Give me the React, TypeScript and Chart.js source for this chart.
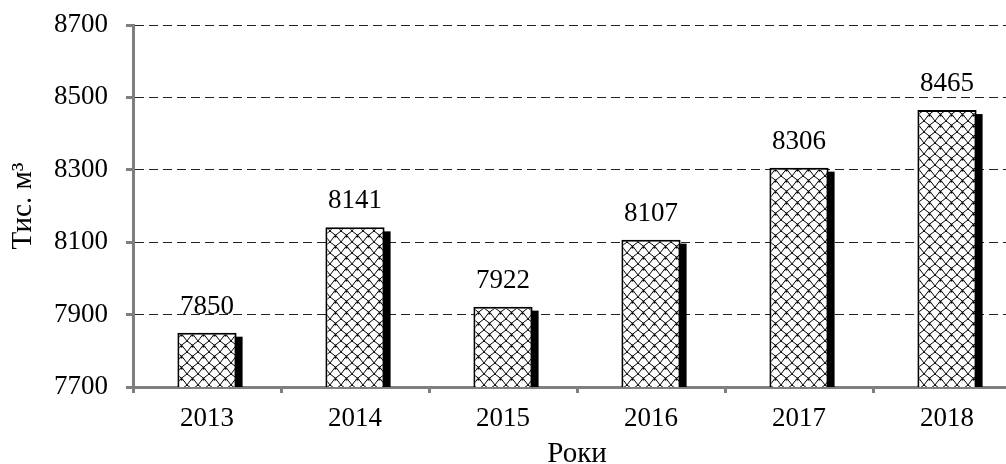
import React, { useEffect, useRef } from "react";
import { Chart, registerables } from "chart.js";

Chart.register(...registerables);

const categories = ["2013", "2014", "2015", "2016", "2017", "2018"];
const values = [7850, 8141, 7922, 8107, 8306, 8465];
const yTicks = [7700, 7900, 8100, 8300, 8500, 8700];

const FONT = "'Liberation Serif', 'Times New Roman', serif";
const FS = 27;
const TFS = 29;

function makePattern(): CanvasPattern | string {
  const c = document.createElement("canvas");
  const s = 11;
  c.width = s;
  c.height = s;
  const g = c.getContext("2d");
  if (!g) return "#fff";
  g.fillStyle = "#fff";
  g.fillRect(0, 0, s, s);
  g.strokeStyle = "#000";
  g.lineWidth = 1;
  g.beginPath();
  g.moveTo(0, 0);
  g.quadraticCurveTo(s / 2 + 1.5, s / 2 - 1.5, s, s);
  g.moveTo(s, 0);
  g.quadraticCurveTo(s / 2 - 1.5, s / 2 - 1.5, 0, s);
  g.stroke();
  g.fillStyle = "#000";
  g.fillRect(s / 2 - 1, s / 2 - 1, 2, 2);
  g.fillRect(0, 0, 1, 1);
  const p = g.createPattern(c, "repeat");
  return p || "#fff";
}

const shadowPlugin = {
  id: "barShadow",
  beforeDatasetDraw(chart: any) {
    const ctx = chart.ctx;
    const area = chart.chartArea;
    const meta = chart.getDatasetMeta(0);
    ctx.save();
    ctx.beginPath();
    ctx.rect(area.left, area.top - 50, area.right - area.left + 50, area.bottom - area.top + 50);
    ctx.clip();
    ctx.fillStyle = "#000";
    meta.data.forEach((el: any) => {
      const p = el.getProps(["x", "y", "base", "width"], true);
      const left = p.x - p.width / 2 + 6;
      const top = Math.min(p.y, p.base) + 4;
      ctx.fillRect(left, top, p.width, Math.abs(p.base - p.y));
    });
    ctx.restore();
  },
};

const labelPlugin = {
  id: "barLabels",
  afterDatasetsDraw(chart: any) {
    const ctx = chart.ctx;
    const meta = chart.getDatasetMeta(0);
    ctx.save();
    ctx.fillStyle = "#000";
    ctx.font = `${FS}px ${FONT}`;
    ctx.textAlign = "center";
    ctx.textBaseline = "alphabetic";
    meta.data.forEach((el: any, i: number) => {
      ctx.fillText(String(values[i]), el.x, el.y - 19);
    });
    ctx.restore();
  },
};

export default function App() {
  const ref = useRef<HTMLCanvasElement | null>(null);

  useEffect(() => {
    if (!ref.current) return;
    const pattern = makePattern();
    const chart = new Chart(ref.current, {
      type: "bar",
      data: {
        labels: categories,
        datasets: [
          {
            data: values,
            backgroundColor: pattern as any,
            borderColor: "#000",
            borderWidth: 2,
            borderSkipped: false,
            categoryPercentage: 1,
            barPercentage: 0.4,
          },
        ],
      },
      options: {
        animation: false,
        responsive: false,
        maintainAspectRatio: false,
        events: [],
        layout: { padding: { top: 25, right: 9, left: 0, bottom: 0 } },
        plugins: {
          legend: { display: false },
          tooltip: { enabled: false },
        },
        scales: {
          x: {
            z: 1,
            offset: true,
            grid: {
              offset: true,
              drawOnChartArea: false,
              drawTicks: true,
              tickLength: 6,
              tickColor: "#7f7f7f",
              tickWidth: 3,
            },
            border: { display: true, color: "#7f7f7f", width: 3 },
            ticks: {
              color: "#000",
              font: { family: FONT, size: FS },
              padding: 10,
            },
            title: {
              display: true,
              text: "Роки",
              color: "#000",
              font: { family: FONT, size: TFS },
              padding: { top: 0, bottom: 8 },
            },
            afterFit(scale: any) {
              scale.height = 93;
              scale.paddingLeft = 0;
              scale.paddingRight = 0;
            },
          },
          y: {
            min: 7700,
            max: 8700,
            afterBuildTicks(scale: any) {
              scale.ticks = yTicks.map((v) => ({ value: v }));
            },
            grid: {
              color: "#222",
              lineWidth: 1,
              drawTicks: true,
              tickLength: 7,
              tickColor: "#7f7f7f",
              tickWidth: 3,
              tickBorderDash: [],
            } as any,
            border: { display: true, color: "#7f7f7f", width: 3, dash: [9, 5] },
            ticks: {
              color: "#000",
              font: { family: FONT, size: FS },
              padding: 18,
              callback: (v: any) => String(v),
            },
            title: {
              display: true,
              text: "Тис. м³",
              color: "#000",
              font: { family: FONT, size: TFS },
              padding: { top: 6, bottom: 0 },
            },
            afterFit(scale: any) {
              scale.width = 133;
              scale.paddingTop = 0;
              scale.paddingBottom = 0;
            },
          },
        },
      },
      plugins: [shadowPlugin, labelPlugin],
    });
    return () => chart.destroy();
  }, []);

  return (
    <div
      style={{
        position: "absolute",
        left: 0,
        top: 0,
        width: 1006,
        height: 464,
        overflow: "hidden",
        background: "#fff",
      }}
    >
      <canvas ref={ref} width={1030} height={480} style={{ width: 1030, height: 480 }} />
    </div>
  );
}
